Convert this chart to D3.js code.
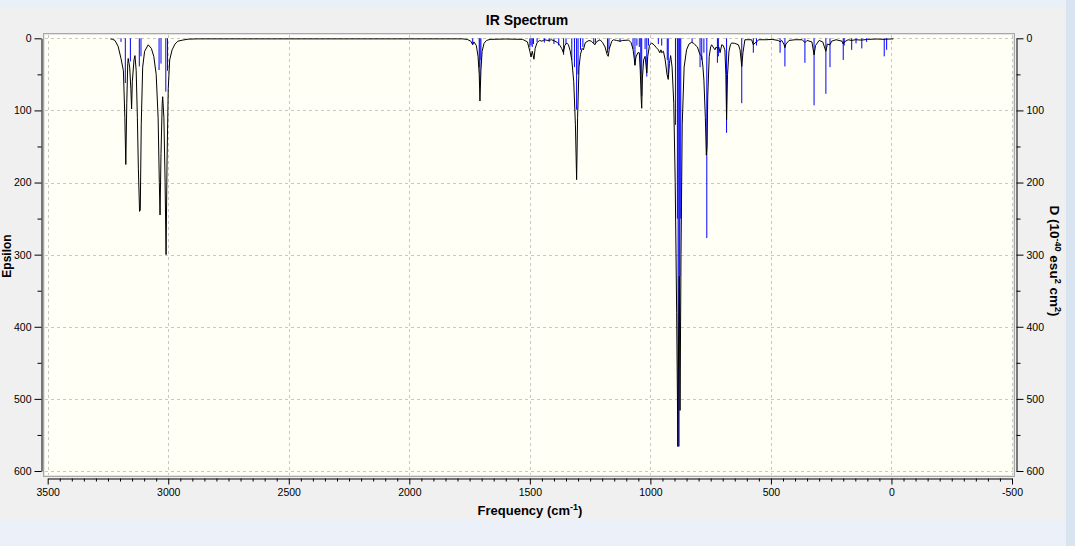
<!DOCTYPE html>
<html><head><meta charset="utf-8">
<script src="https://cdn.jsdelivr.net/npm/d3@7"></script>
<style>
html,body{margin:0;padding:0;background:#f0f0f0;overflow:hidden;}
svg{display:block;}
text{font-family:"Liberation Sans",Arial,sans-serif;fill:#000;}
</style></head><body>
<svg id="c" width="1075" height="546"></svg>
<script>
// ---- data ----
const title = "IR Spectrum";
const xTickValues = [3500,3000,2500,2000,1500,1000,500,0,-500];
const yTickValues = [0,100,200,300,400,500,600];
// stick spectrum: frequency (cm-1) and D (10^-40 esu^2 cm^2)
const stickFreq = [3196,3178,3157,3120,3113,3038,3030,3010,3003,
  1737,1710,1707,1703,1500,1495,1490,1485,1470,1440,1420,1400,1380,1360,1350,1326,1315,1306,1300,1290,1280,1235,1228,1178,1172,1126,
  1072,1064,1056,1046,1040,1036,1022,1015,1008,967,953,930,926,
  896,888,885,881,878,874,827,794,787,778,766,722,718,684,621,573,560,462,442,359,321,272,255,200,196,165,147,123,103,30,20];
const stickD = [5,62,32,39,25,44,35,74,45,
  8,40,62,30,12,10,12,8,5,6,5,8,10,23,8,30,40,99,50,16,12,8,6,20,15,5,
  15,38,10,12,50,80,15,53,10,8,10,30,53,
  120,250,566,566,330,250,6,40,30,20,277,34,25,131,90,20,10,20,39,34,93,77,40,30,10,16,7,14,5,25,16];
// broadened spectrum: [frequency, epsilon]
const curvePoints = [
 [3240,0.8],[3230,1.5],[3221,3],[3208,11],[3196,28],[3186,45],[3180,110],[3176,175],[3172,90],[3168,35],[3166,28],
 [3160,40],[3155,70],[3152,98],[3149,60],[3142,30],[3138,24],[3133,45],[3128,110],[3124,180],[3119,240],[3116,238],
 [3112,120],[3106,40],[3098,18],[3083,9],[3070,14],[3060,25],[3050,50],[3042,110],[3037,200],[3034,245],[3030,160],
 [3025,90],[3023,81],[3018,110],[3013,200],[3009,300],[3005,170],[3000,70],[2994,30],[2984,16],[2972,8],[2960,4],
 [2940,2.5],[2918,1.2],[2880,0.8],[1780,0.8],[1760,1.5],[1745,4],[1737,9],[1732,5],[1722,10],[1715,25],[1710,50],
 [1707,87],[1703,45],[1698,18],[1690,7],[1680,3],[1665,1.5],[1600,1],[1530,1.5],[1510,5],[1500,18],[1495,26],
 [1490,18],[1486,24],[1483,29],[1478,14],[1470,6],[1460,3],[1450,4],[1440,2],[1425,3],[1410,2],[1396,4],[1385,6],
 [1375,10],[1368,14],[1361,20],[1355,10],[1347,6.5],[1340,9],[1333,17],[1326,30],[1318,60],[1311,120],[1306,196],
 [1302,110],[1296,40],[1290,22],[1283,14],[1278,16],[1270,6],[1255,3],[1245,4],[1236,7],[1230,9],[1224,5],[1209,2],
 [1198,6],[1188,12],[1180,22],[1175,25],[1170,14],[1160,4],[1154,2],[1140,3],[1126,4],[1115,3],[1090,2.5],[1080,6],
 [1072,15],[1067,28],[1064,37],[1060,26],[1052,20],[1046,20],[1042,45],[1038,85],[1036,97],[1033,55],[1028,30],
 [1022,25],[1018,38],[1015,48],[1011,25],[1004,10],[995,6.5],[985,9],[975,13],[967,16],[961,20],[956,16],[953,20],
 [946,18],[939,29],[931,50],[926,57],[921,35],[916,24],[910,40],[903,90],[897,200],[891,380],[886,566],[883,420],
 [880,330],[877,516],[873,300],[868,120],[860,40],[850,16],[840,8],[829,5.6],[820,7],[815,9],[805,12],[795,22],
 [787,25],[782,40],[778,58],[772,110],[768,162],[765,150],[762,80],[756,25],[750,12],[746,9],[740,12],[732,16],
 [727,12],[722,14],[716,12],[711,20],[704,9],[698,10],[691,16],[687,50],[684,113],[680,50],[674,18],[668,9],
 [663,6.5],[650,7],[635,9],[628,16],[621,39],[616,20],[608,2],[595,2],[580,2],[573,9],[566,6.5],[560,5],[550,2],
 [520,2],[495,1.5],[470,3],[462,5],[455,3],[445,9],[442,13],[438,8],[425,3],[400,2],[370,2],[359,6],[350,3],
 [330,5],[321,23],[315,10],[300,3],[285,5],[272,18],[266,8],[255,9],[248,4],[230,2],[205,4],[200,8],[195,5],
 [180,2],[165,3],[150,2],[123,2.5],[100,1.5],[60,1],[30,1.5],[20,1.2],[-8,0.8]
];

// ---- layout ----
const svg = d3.select("#c");
const W = 1075, H = 546;
const x = d3.scaleLinear().domain([3500,-500]).range([47.7,1012]);
const y = d3.scaleLinear().domain([0,600]).range([38.3,471]);
const fmt = d => String(d);

// backgrounds
svg.append("rect").attr("width",W).attr("height",H).attr("fill","#f0f0f0");
svg.append("rect").attr("width",W).attr("height",8).attr("fill","#eaf0f8");
svg.append("rect").attr("y",520).attr("width",W).attr("height",H-520).attr("fill","#ecf1f9");
svg.append("rect").attr("x",1066).attr("width",W-1066).attr("height",H).attr("fill","#d9e4f1");

// plot frame
svg.append("rect").attr("x",43.5).attr("y",33.5).attr("width",971).attr("height",443)
  .attr("fill","#fffff5").attr("stroke","#a8a8a8").attr("stroke-width",1);
svg.append("rect").attr("x",44.5).attr("y",34.5).attr("width",969).attr("height",441)
  .attr("fill","none").attr("stroke","#e4e4e4").attr("stroke-width",1);

// grid
const grid = svg.append("g").attr("stroke","#c8c8c8").attr("stroke-dasharray","3,3").attr("stroke-width",1);
xTickValues.forEach(v=>{
  grid.append("line").attr("x1",Math.round(x(v))+0.5).attr("x2",Math.round(x(v))+0.5)
    .attr("y1",35).attr("y2",475);
});
yTickValues.forEach(v=>{
  grid.append("line").attr("y1",Math.round(y(v))+0.5).attr("y2",Math.round(y(v))+0.5)
    .attr("x1",45).attr("x2",1013);
});

// sticks
const sticks = stickFreq.map((f,i)=>({f, d:stickD[i]}));
svg.append("g").selectAll("line").data(sticks).join("line")
  .attr("x1",d=>x(d.f)).attr("x2",d=>x(d.f))
  .attr("y1",y(0)).attr("y2",d=>y(d.d))
  .attr("stroke","#0000ff").attr("stroke-width",1);

// curve
const line = d3.line().x(d=>x(d[0])).y(d=>y(d[1]));
svg.append("path").attr("d",line(curvePoints)).attr("fill","none")
  .attr("stroke","#000").attr("stroke-width",1);

// axes
const fontSize = "10.5px";
svg.append("g").attr("transform","translate(41.5,0)")
  .call(d3.axisLeft(y).tickValues(yTickValues).tickFormat(fmt).tickSize(7).tickSizeOuter(0).tickPadding(3));
svg.append("g").attr("transform","translate(41.5,0)")
  .call(d3.axisLeft(y).tickValues(d3.range(50,600,100)).tickSize(4).tickSizeOuter(0).tickFormat(""))
  .select(".domain").remove();
svg.append("g").attr("transform","translate(1016.5,0)")
  .call(d3.axisRight(y).tickValues(yTickValues).tickFormat(fmt).tickSize(7).tickSizeOuter(0).tickPadding(3));
svg.append("g").attr("transform","translate(1016.5,0)")
  .call(d3.axisRight(y).tickValues(d3.range(50,600,100)).tickSize(4).tickSizeOuter(0).tickFormat(""))
  .select(".domain").remove();
svg.append("g").attr("transform","translate(0,478.5)")
  .call(d3.axisBottom(x).tickValues(xTickValues).tickFormat(fmt).tickSize(6).tickSizeOuter(0).tickPadding(4));
svg.append("g").attr("transform","translate(0,478.5)")
  .call(d3.axisBottom(x).tickValues(d3.range(3450,-500,-50).filter(v=>v%500!==0)).tickSize(3).tickSizeOuter(0).tickFormat(""))
  .select(".domain").remove();
svg.selectAll(".tick text").attr("font-size",fontSize).attr("font-family","Liberation Sans, Arial, sans-serif").attr("fill","#222");
svg.selectAll(".domain, .tick line").attr("stroke","#000");

// titles
svg.append("text").attr("x",527).attr("y",25).attr("text-anchor","middle")
  .attr("font-size","14px").attr("font-weight","bold").text(title);
const xl = svg.append("text").attr("x",530).attr("y",515).attr("text-anchor","middle")
  .attr("font-size","13px").attr("font-weight","bold");
xl.append("tspan").text("Frequency (cm");
xl.append("tspan").attr("font-size","9px").attr("dy",-5).text("-1");
xl.append("tspan").attr("dy",5).text(")");
svg.append("text").attr("transform","translate(11,256) rotate(-90)").attr("text-anchor","middle")
  .attr("font-size","12px").attr("font-weight","bold").text("Epsilon");
const rl = svg.append("text").attr("transform","translate(1050,261) rotate(90)").attr("text-anchor","middle")
  .attr("font-size","13.5px").attr("font-weight","bold");
rl.append("tspan").text("D (10");
rl.append("tspan").attr("font-size","9px").attr("dy",-5).text("-40");
rl.append("tspan").attr("dy",5).text(" esu");
rl.append("tspan").attr("font-size","9px").attr("dy",-5).text("2");
rl.append("tspan").attr("dy",5).text(" cm");
rl.append("tspan").attr("font-size","9px").attr("dy",-5).text("2");
rl.append("tspan").attr("dy",5).text(")");
</script>
</body></html>
